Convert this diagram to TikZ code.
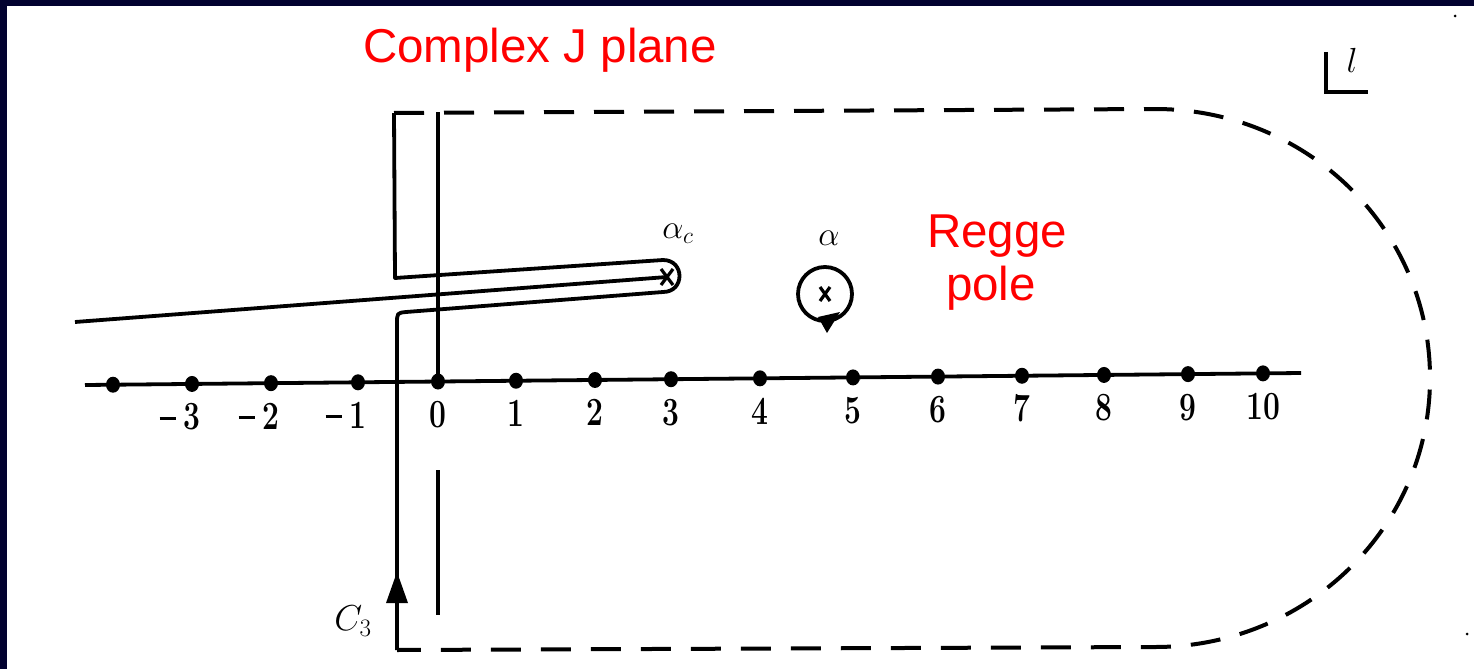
\documentclass[tikz,border=0pt]{standalone}
\usepackage{fontspec}
\newfontfamily\labfont{Liberation Sans}
\usetikzlibrary{calc}
\definecolor{framecol}{RGB}{2,2,48}
\definecolor{lblred}{RGB}{255,0,0}
\newcommand\axnum[1]{\scalebox{0.75}[1]{#1}}
\newcommand\negnum[1]{\llap{\rule[10pt]{16pt}{3.2pt}\kern8pt}\scalebox{0.75}[1]{#1}}
\newcommand\bigmath[1]{\scalebox{1.35}{#1}}
\begin{document}
\begin{tikzpicture}[x=1pt,y=-1pt,
  solidline/.style={line width=3.8pt, line join=round},
  dashline/.style={line width=4pt, dash pattern=on 30pt off 20pt},
  axisline/.style={line width=3.8pt},
  crossline/.style={line width=3.2pt},
  redlab/.style={text=lblred, font=\labfont\fontsize{47.5}{52}\selectfont, inner sep=0pt},
  numlab/.style={font=\fontsize{40}{40}\selectfont\bfseries, inner sep=0pt, anchor=base},
  mathlab/.style={font=\fontsize{24}{24}\selectfont, inner sep=0pt}]
\useasboundingbox (0,0) rectangle (1474,669);
\fill[white] (0,0) rectangle (1474,669);
\fill[framecol] (0,0) rectangle (1474,6);
\fill[framecol] (0,0) rectangle (7,669);

% key points
\coordinate (TL) at (394,113);
\coordinate (UC) at (395,278);
\coordinate (Utip) at (663,260);
\coordinate (Ltip) at (663,292);
\coordinate (Lstart) at (406,312);
\coordinate (BL) at (397,650);
\coordinate (TR) at (1155,109);
\coordinate (RM) at (1430,378);
\coordinate (BR) at (1155,647);
\coordinate (ac) at (667,277);
\coordinate (cutL) at (75,322);
\coordinate (axL) at (85,385);
\coordinate (axR) at (1301,373);
\coordinate (Vtop) at (438,112);
\coordinate (Vlow1) at (438,470);
\coordinate (Vlow2) at (438,615);
\coordinate (rp) at (825,294);

% real axis
\draw[axisline] (axL) -- (axR);
\foreach \x in {113,192,271,358,438,516,595,671,760,853,938,1022,1104,1188,1263}{
  \coordinate (d\x) at (\x,{385-0.00987*(\x-85)});
  \fill (d\x) ellipse[x radius=7, y radius=8];
}
\foreach \x/\t in {192/3,271/2,358/1}{
  \node[numlab] (n\x) at ($(d\x)+(0,46)$) {\negnum{\t}};
}
\foreach \x/\t in {438/0,516/1,595/2,671/3,760/4,853/5,938/6,1022/7,1104/8,1188/9,1263/10}{
  \node[numlab] (n\x) at ($(d\x)+(0,46)$) {\axnum{\t}};
}

% vertical line through 0
\draw[solidline] (Vtop) -- (d438);
\draw[solidline] (Vlow1) -- (Vlow2);

% branch cut
\draw[solidline] (cutL) -- (ac);
\draw[crossline] ($(ac)+(-6,-8)$) -- ($(ac)+(6,8)$);
\draw[crossline] ($(ac)+(6,-8)$) -- ($(ac)+(-6,8)$);

% contour C3 (solid part)
\draw[solidline] (BL) -- (397,324) .. controls (397,313) .. (Lstart) -- (Ltip)
  .. controls (685,292) and (685,260) .. (Utip) -- (UC) -- (TL);
% contour closing at infinity (dashed)
\draw[dashline] (TL) -- (TR) .. controls (1307,109) and (1430,229) .. (RM)
  .. controls (1430,527) and (1307,647) .. (BR) -- (BL);
% arrow on C3
\fill (397,572) -- (408,603) -- (386,603) -- cycle;
\node[font=\fontsize{24}{24}\selectfont, inner sep=0pt] (c3) at (353,621) {\scalebox{1.45}{$C_3$}};

% Regge pole
\draw[solidline] (rp) circle[radius=27];
\draw[crossline] ($(rp)+(-5,-7)$) -- ($(rp)+(5,7)$);
\draw[crossline] ($(rp)+(5,-7)$) -- ($(rp)+(-5,7)$);
\fill (818,317) -- (840,312) -- (827,333) -- cycle;
\node[mathlab] (alab) at (829,238) {\bigmath{$\alpha$}};
\node[mathlab] (aclab) at (678,234) {\bigmath{$\alpha_c$}};

% l-plane marker
\draw[line width=4pt] (1326,52) -- (1326,92) -- (1368,92);
\node[font=\fontsize{24}{24}\selectfont, inner sep=0pt] (lp) at (1352,60) {\scalebox{1.4}{$l$}};

% scan specks
\fill (1455,16) circle[radius=1.5];
\fill (1467,634) circle[radius=1.5];

% red labels
\node[redlab, anchor=base] (cj) at (540,63) {Complex J plane};
\node[redlab, anchor=base] (rg) at (997,247) {Regge};
\node[redlab, anchor=base] (pl) at (991,300) {pole};
\end{tikzpicture}
\end{document}
